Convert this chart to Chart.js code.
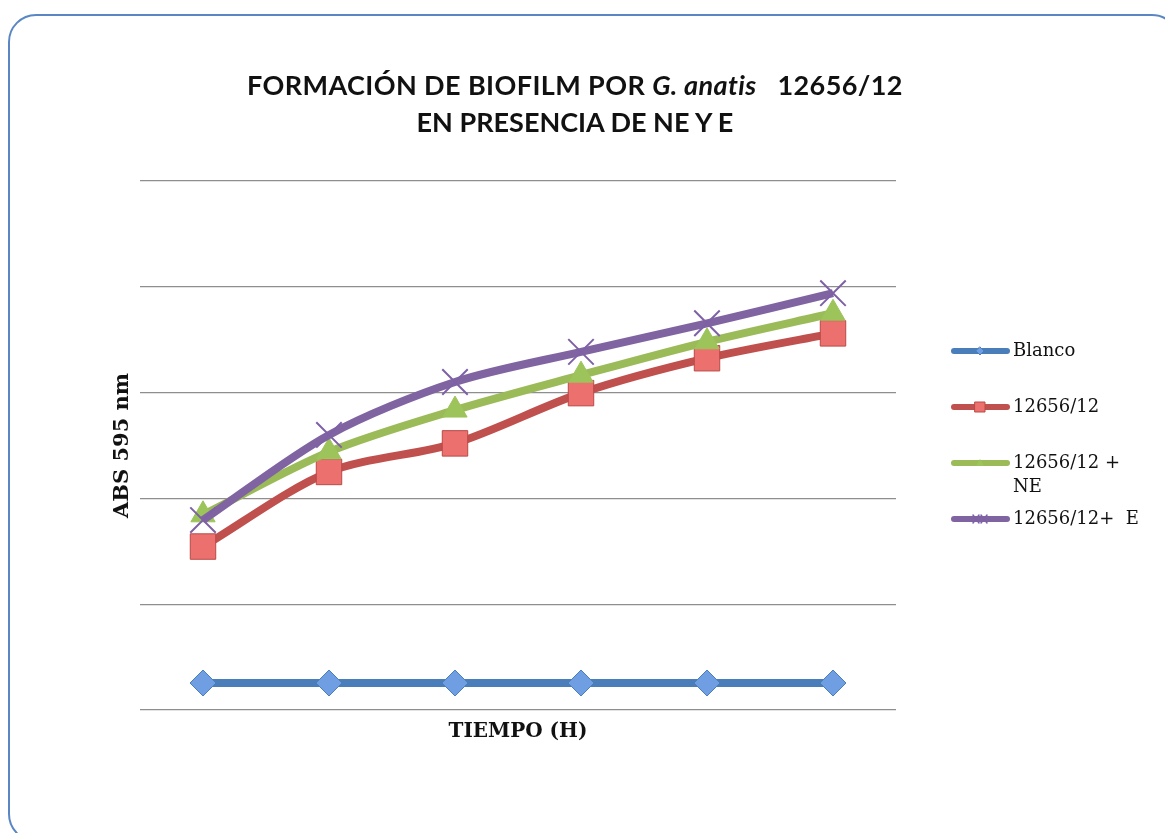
<!DOCTYPE html>
<html>
<head>
<meta charset="utf-8">
<script src="https://cdn.jsdelivr.net/npm/chart.js@4/dist/chart.umd.min.js"></script>
<style>
  html, body { margin: 0; padding: 0; background: #ffffff; overflow: hidden; }
  #wrap { position: relative; width: 1165px; height: 833px; }
  #frame {
    position: absolute; left: 8px; top: 14px; width: 1172px; height: 828px;
    border: 2px solid #5A87C4; border-radius: 28px; box-sizing: border-box;
  }
  #title {
    position: absolute; left: 0; width: 1150px; top: 66px;
    text-align: center; font-family: Lato, "Noto Sans", sans-serif; font-weight: 700;
    font-size: 27px; line-height: 37px; color: #111;
  }
  #title .l1 { letter-spacing: 0.4px; }
  #chart { position: absolute; left: 0; top: 0; }
</style>
</head>
<body>
<div id="wrap">
  <div id="frame"></div>
  <canvas id="chart" width="1165" height="833"></canvas>
  <div id="title"><span class="l1">FORMACIÓN DE BIOFILM POR <i>G. anatis</i>&nbsp;&nbsp; 12656/12</span><br>EN PRESENCIA DE NE Y E</div>
</div>
<script>
// Sampling times (not labelled on the axis)
const tiempos = ['1', '2', '3', '4', '5', '6'];

// Absorbance at 595 nm for each condition
const blanco   = [0.051, 0.051, 0.051, 0.051, 0.051, 0.051];
const cepa     = [0.309, 0.450, 0.504, 0.599, 0.665, 0.712];
const cepaNE   = [0.369, 0.488, 0.567, 0.633, 0.696, 0.750];
const cepaE    = [0.359, 0.520, 0.620, 0.677, 0.731, 0.788];

const nombres = ['Blanco', '12656/12', ['12656/12 +', 'NE'], '12656/12+  E'];

// y axis range and grid spacing
const yMin = 0, yMax = 1.0, yStep = 0.2;

const serif = '"DejaVu Serif", "Liberation Serif", serif';

// Legend on the right, drawn from each dataset's own colours and point style
const sideLegend = {
  id: 'sideLegend',
  afterDraw(chart) {
    const ctx = chart.ctx;
    const rows = [351, 407, 463, 519];
    const cx = 980;
    chart.data.datasets.forEach((ds, i) => {
      const y = rows[i];
      const r = ds.legendRadius;
      ctx.save();
      ctx.strokeStyle = ds.borderColor;
      ctx.lineWidth = 6;
      ctx.lineCap = 'round';
      ctx.beginPath();
      ctx.moveTo(954, y);
      ctx.lineTo(1007, y);
      ctx.stroke();

      ctx.fillStyle = ds.pointBackgroundColor;
      ctx.strokeStyle = ds.pointBorderColor;
      ctx.lineWidth = 1;
      ctx.beginPath();
      if (ds.pointStyle === 'rectRot') {
        ctx.moveTo(cx, y - r); ctx.lineTo(cx + r, y); ctx.lineTo(cx, y + r); ctx.lineTo(cx - r, y); ctx.closePath();
        ctx.fill(); ctx.stroke();
      } else if (ds.pointStyle === 'rect') {
        ctx.rect(cx - r, y - r, 2 * r, 2 * r); ctx.fill(); ctx.stroke();
      } else if (ds.pointStyle === 'triangle') {
        ctx.moveTo(cx, y - r); ctx.lineTo(cx + r, y + r * 0.7); ctx.lineTo(cx - r, y + r * 0.7); ctx.closePath();
        ctx.fill();
      } else {
        ctx.lineWidth = 1.5;
        ctx.moveTo(cx - 7, y - r); ctx.lineTo(cx - 1, y + r);
        ctx.moveTo(cx - 1, y - r); ctx.lineTo(cx - 7, y + r);
        ctx.moveTo(cx + 1, y - r); ctx.lineTo(cx + 7, y + r);
        ctx.moveTo(cx + 7, y - r); ctx.lineTo(cx + 1, y + r);
        ctx.stroke();
      }
      ctx.fillStyle = '#111';
      ctx.font = '18px ' + serif;
      ctx.textBaseline = 'middle';
      ctx.textAlign = 'left';
      const name = nombres[i];
      if (Array.isArray(name)) {
        name.forEach((t, k) => ctx.fillText(t, 1013, y + k * 24));
      } else {
        ctx.fillText(name, 1013, y);
      }
      ctx.restore();
    });
  }
};

new Chart(document.getElementById('chart'), {
  type: 'line',
  data: {
    labels: tiempos,
    datasets: [
      {
        label: 'Blanco', data: blanco, order: 4,
        borderColor: '#4A7EBB', borderWidth: 8,
        pointStyle: 'rectRot', pointRadius: 13, pointHoverRadius: 13,
        pointBackgroundColor: '#6F9FE2', pointBorderColor: '#4A7EBB', pointBorderWidth: 1,
        legendRadius: 4
      },
      {
        label: '12656/12', data: cepa, order: 3,
        borderColor: '#C0504D', borderWidth: 8,
        pointStyle: 'rect', pointRadius: 18, pointHoverRadius: 18,
        pointBackgroundColor: '#EC706D', pointBorderColor: '#B94A47', pointBorderWidth: 1,
        legendRadius: 5
      },
      {
        label: '12656/12 + NE', data: cepaNE, order: 2,
        borderColor: '#9BBB59', borderWidth: 8,
        pointStyle: 'triangle', pointRadius: 14, pointHoverRadius: 14,
        pointBackgroundColor: '#9CC45A', pointBorderColor: '#9CC45A', pointBorderWidth: 1,
        legendRadius: 4
      },
      {
        label: '12656/12+ E', data: cepaE, order: 1,
        borderColor: '#8064A2', borderWidth: 8,
        pointStyle: 'crossRot', pointRadius: 18, pointHoverRadius: 18,
        pointBackgroundColor: '#8064A2', pointBorderColor: '#7E60A6', pointBorderWidth: 2,
        legendRadius: 4
      }
    ]
  },
  options: {
    responsive: false,
    animation: false,
    events: [],
    layout: { padding: { left: 110, top: 181, right: 269, bottom: 89 } },
    plugins: {
      legend: { display: false },
      tooltip: { enabled: false },
      title: { display: false }
    },
    elements: { line: { tension: 0.3, capBezierPoints: true } },
    scales: {
      x: {
        offset: true,
        grid: { display: false },
        border: { display: false },
        ticks: { display: false },
        title: {
          display: true, text: 'TIEMPO (H)', color: '#111',
          font: { family: serif, size: 20, weight: 'bold' }, padding: 0
        },
        afterFit(scale) { scale.height = 34; }
      },
      y: {
        min: yMin, max: yMax,
        grid: { color: '#8E8E8E', lineWidth: 1.2, drawTicks: false },
        border: { display: false },
        ticks: { display: false, stepSize: yStep },
        title: {
          display: true, text: 'ABS 595 nm', color: '#111',
          font: { family: serif, size: 21, weight: 'bold' }, padding: 0
        },
        afterFit(scale) { scale.width = 30; }
      }
    }
  },
  plugins: [sideLegend]
});
</script>
</body>
</html>
